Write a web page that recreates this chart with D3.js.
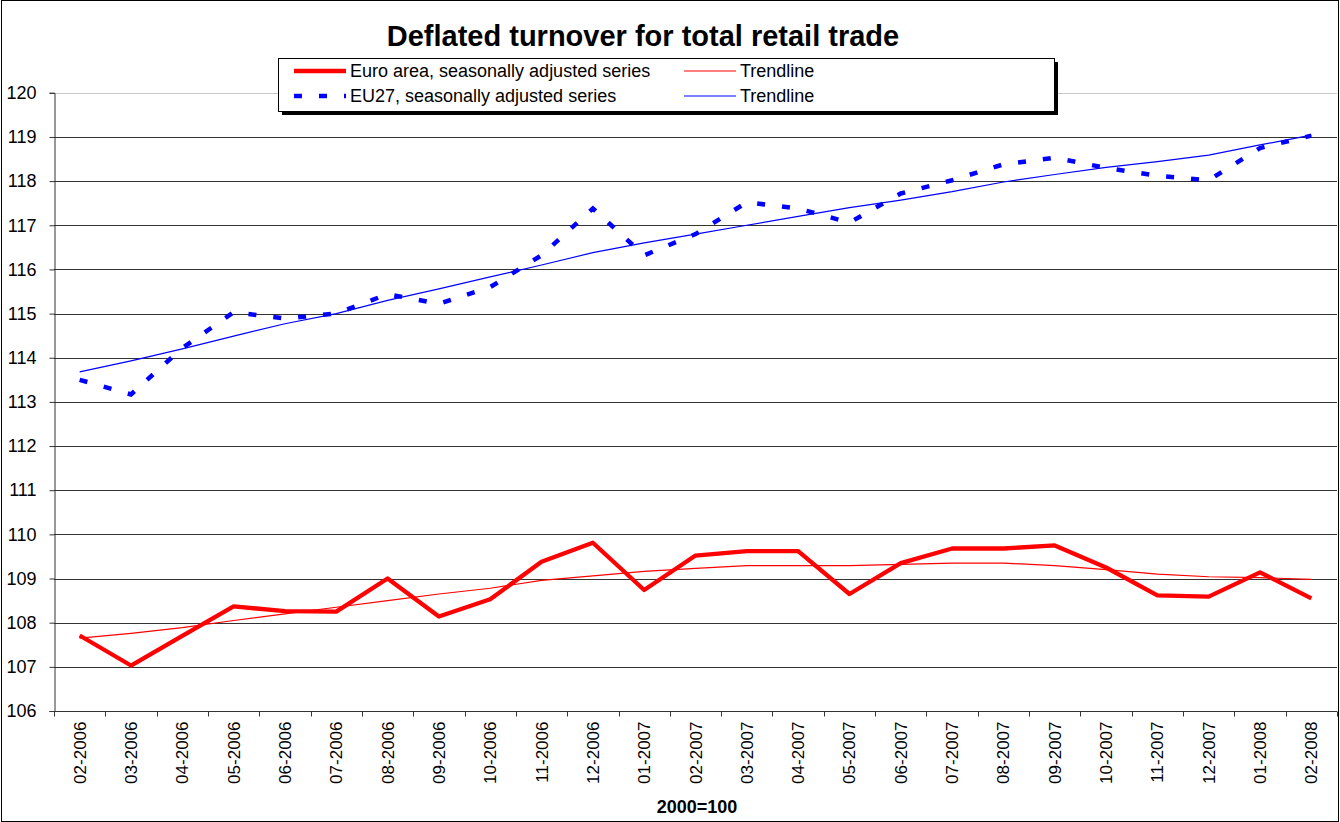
<!DOCTYPE html>
<html>
<head>
<meta charset="utf-8">
<script src="https://cdn.jsdelivr.net/npm/d3@7"></script>
<style>
  body { margin: 0; background: #fff; }
  svg { display: block; font-family: "Liberation Sans", Arial, sans-serif; }
</style>
</head>
<body>
<div id="chart"></div>
<script>
// months on the category axis
const months = ["02-2006","03-2006","04-2006","05-2006","06-2006","07-2006","08-2006","09-2006","10-2006","11-2006","12-2006",
  "01-2007","02-2007","03-2007","04-2007","05-2007","06-2007","07-2007","08-2007","09-2007","10-2007","11-2007","12-2007",
  "01-2008","02-2008"];

// Euro area, seasonally adjusted series
const euroArea = [107.71,107.03,107.70,108.37,108.26,108.25,109.00,108.14,108.53,109.38,109.81,108.74,109.52,
  109.62,109.62,108.65,109.35,109.68,109.68,109.75,109.25,108.62,108.59,109.14,108.55];
// Euro area trendline
const euroTrend = [107.65,107.76,107.89,108.05,108.20,108.35,108.50,108.65,108.78,108.96,109.06,109.16,109.23,
  109.29,109.29,109.29,109.32,109.35,109.35,109.29,109.20,109.10,109.04,109.02,108.98];

// EU27, seasonally adjusted series
const eu27 = [113.50,113.17,114.22,115.03,114.89,115.00,115.44,115.22,115.60,116.32,117.38,116.32,116.80,
  117.52,117.38,117.06,117.72,118.02,118.38,118.53,118.30,118.12,118.02,118.75,119.03];
// EU27 trendline
const eu27Trend = [113.68,113.93,114.20,114.49,114.77,115.00,115.30,115.56,115.83,116.10,116.38,116.60,116.80,
  117.00,117.20,117.40,117.57,117.76,117.98,118.15,118.31,118.44,118.59,118.82,119.04];

const yTicks = d3.range(106, 121, 1);

const width = 1340, height = 822;
const plot = {left: 54, right: 1337, top: 92.8, bottom: 711};

const svg = d3.select("#chart").append("svg")
  .attr("width", width)
  .attr("height", height);

// outer frame
svg.append("rect")
  .attr("x", 1.5).attr("y", 0.5)
  .attr("width", width - 3).attr("height", height - 1)
  .attr("fill", "white").attr("stroke", "black").attr("stroke-width", 1);

const x = d3.scaleBand().domain(months).range([plot.left, plot.right]);
const y = d3.scaleLinear().domain([106, 120]).range([plot.bottom, plot.top]);
const cx = d => x(d) + x.bandwidth() / 2;

// gridlines
svg.append("g")
  .selectAll("line")
  .data(yTicks.filter(t => t > 106))
  .join("line")
  .attr("x1", plot.left).attr("x2", plot.right)
  .attr("y1", d => Math.round(y(d)) + 0.5).attr("y2", d => Math.round(y(d)) + 0.5)
  .attr("stroke", d => d === 120 ? "#c8c8c8" : "#333")
  .attr("stroke-width", 1);

// y axis
const yAxis = svg.append("g")
  .attr("transform", `translate(${plot.left + 0.5},0)`)
  .call(d3.axisLeft(y).tickValues(yTicks).tickSize(5).tickPadding(13).tickFormat(d3.format("d")));
yAxis.select(".domain").attr("stroke", "#333");
yAxis.selectAll(".tick line").attr("stroke", "#333");
yAxis.selectAll("text").attr("font-size", 18).attr("fill", "black")
  .attr("font-family", "Liberation Sans, Arial, sans-serif");

// x axis with ticks at category boundaries
const xAxis = svg.append("g")
  .attr("transform", `translate(0,${plot.bottom + 0.5})`);
xAxis.append("line")
  .attr("x1", plot.left).attr("x2", plot.right)
  .attr("stroke", "#333");
xAxis.selectAll("line.tk")
  .data(months.concat(["end"]))
  .join("line")
  .attr("class", "tk")
  .attr("x1", (d, i) => Math.round(plot.left + i * x.bandwidth()) + 0.5)
  .attr("x2", (d, i) => Math.round(plot.left + i * x.bandwidth()) + 0.5)
  .attr("y1", 0).attr("y2", 5)
  .attr("stroke", "#333");
xAxis.selectAll("text")
  .data(months)
  .join("text")
  .attr("transform", d => `translate(${cx(d) + 6},${10}) rotate(-90)`)
  .attr("text-anchor", "end")
  .attr("font-size", 17)
  .text(d => d);

// lines
const line = d3.line()
  .x((d, i) => cx(months[i]))
  .y(d => y(d));

svg.append("path").datum(euroTrend)
  .attr("d", line).attr("fill", "none")
  .attr("stroke", "#ff0000").attr("stroke-width", 1.2);

svg.append("path").datum(eu27Trend)
  .attr("d", line).attr("fill", "none")
  .attr("stroke", "#0000ff").attr("stroke-width", 1.2);

svg.append("path").datum(euroArea)
  .attr("d", line).attr("fill", "none")
  .attr("stroke", "#ff0000").attr("stroke-width", 4.3)
  .attr("stroke-linejoin", "round");

svg.append("path").datum(eu27)
  .attr("d", line).attr("fill", "none")
  .attr("stroke", "#0000ff").attr("stroke-width", 4.5)
  .attr("stroke-dasharray", "8,17");

// title
svg.append("text")
  .attr("x", 643).attr("y", 46)
  .attr("text-anchor", "middle")
  .attr("font-size", 29).attr("font-weight", "bold")
  .text("Deflated turnover for total retail trade");

// legend
const lg = svg.append("g");
lg.append("rect")
  .attr("x", 282).attr("y", 62).attr("width", 776).attr("height", 53)
  .attr("fill", "black");
lg.append("rect")
  .attr("x", 278.5).attr("y", 58.5).attr("width", 776).attr("height", 53)
  .attr("fill", "white").attr("stroke", "black").attr("stroke-width", 1);

const legendItems = [
  {label: "Euro area, seasonally adjusted series", color: "#ff0000", w: 4.3, dash: null, col: 0, row: 0},
  {label: "Trendline", color: "#ff0000", w: 1.2, dash: null, col: 1, row: 0},
  {label: "EU27, seasonally adjusted series", color: "#0000ff", w: 4.5, dash: "8,17", col: 0, row: 1},
  {label: "Trendline", color: "#0000ff", w: 1.2, dash: null, col: 1, row: 1}
];
const colX = [294, 684];
legendItems.forEach(it => {
  const ly = 71 + it.row * 25;
  lg.append("line")
    .attr("x1", colX[it.col]).attr("x2", colX[it.col] + 52)
    .attr("y1", ly).attr("y2", ly)
    .attr("stroke", it.color).attr("stroke-width", it.w)
    .attr("stroke-dasharray", it.dash);
  lg.append("text")
    .attr("x", colX[it.col] + 56).attr("y", ly + 6)
    .attr("font-size", 18)
    .text(it.label);
});

// footnote
svg.append("text")
  .attr("x", 697).attr("y", 813)
  .attr("text-anchor", "middle")
  .attr("font-size", 18).attr("font-weight", "bold")
  .text("2000=100");
</script>
</body>
</html>
